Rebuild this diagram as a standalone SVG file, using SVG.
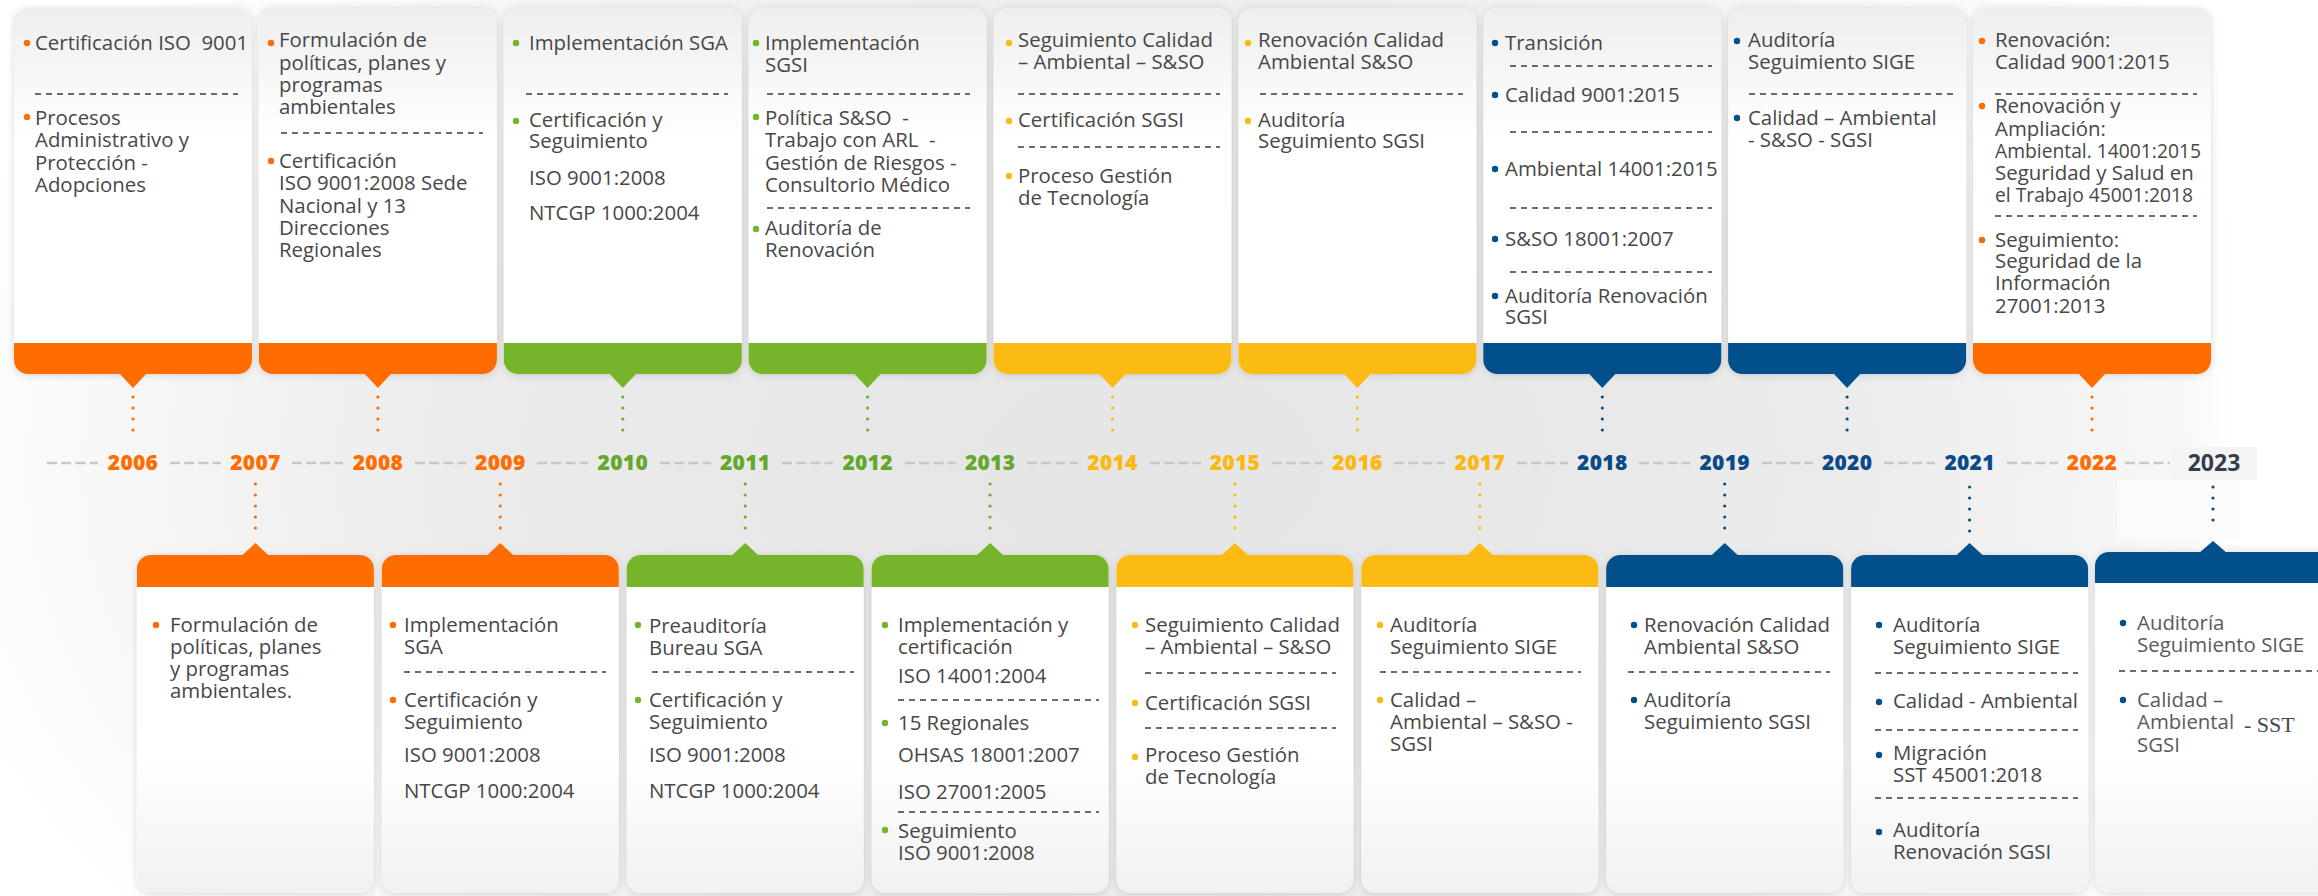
<svg xmlns="http://www.w3.org/2000/svg" width="2318" height="896" viewBox="0 0 2318 896">
<defs>
<radialGradient id="bg" gradientUnits="userSpaceOnUse" cx="1150" cy="470" r="1250" gradientTransform="translate(0 470) scale(1 0.62) translate(0 -470)">
<stop offset="0" stop-color="#e5e5e5"/><stop offset="0.55" stop-color="#ebebeb"/><stop offset="1" stop-color="#ffffff"/>
</radialGradient>
<linearGradient id="topBody" x1="0" y1="0" x2="0" y2="1">
<stop offset="0" stop-color="#eeeeee"/><stop offset="0.35" stop-color="#ffffff"/><stop offset="1" stop-color="#ffffff"/>
</linearGradient>
<linearGradient id="botBody" x1="0" y1="0" x2="0" y2="1">
<stop offset="0" stop-color="#ffffff"/><stop offset="0.6" stop-color="#ffffff"/><stop offset="1" stop-color="#f1f1f1"/>
</linearGradient>
<linearGradient id="rightFade" x1="0" y1="0" x2="1" y2="0">
<stop offset="0" stop-color="#ffffff" stop-opacity="0"/><stop offset="0.4" stop-color="#ffffff" stop-opacity="1"/>
</linearGradient>
<filter id="sh" x="-10%" y="-10%" width="120%" height="120%">
<feDropShadow dx="0" dy="1" stdDeviation="3.5" flood-color="#000" flood-opacity="0.15"/>
</filter>
</defs>
<style>
.t{font-family:"Open Sans","Liberation Sans",sans-serif;font-size:20.4px;font-weight:500;fill:#474747}
.t2{font-family:"Open Sans","Liberation Sans",sans-serif;font-size:20.4px;font-weight:500;fill:#5a5a5a}
.yr{font-family:"Open Sans","Liberation Sans",sans-serif;font-weight:800;font-size:21px;text-anchor:middle;letter-spacing:0.3px}
.sep{stroke:#3d3d3d;stroke-width:1.6;stroke-dasharray:6 5;fill:none}
.tb{fill:url(#topBody);filter:url(#sh)}
.bb{fill:url(#botBody);filter:url(#sh)}
.o{fill:#ff6c00}.g{fill:#76b52a}.y{fill:#fbbb14}.b{fill:#02508b}
.so{stroke:#ff6c00}.sg{stroke:#6fae2a}.sy{stroke:#fbbb14}.sb{stroke:#02508b}
.dot{fill:none;stroke-width:3.2;stroke-linecap:round;stroke-dasharray:0 11}
.dash{stroke:#c8c8c8;stroke-width:2.6;stroke-dasharray:10 4.2;fill:none}
.yo{fill:#ff6c00}.yg{fill:#62a82a}.yy{fill:#fbb80f}.yb{fill:#0b4a86}
</style>
<rect x="0" y="0" width="2318" height="896" fill="url(#bg)"/>
<rect x="2180" y="0" width="138" height="545" fill="url(#rightFade)"/>
<rect x="2117" y="480" width="123" height="60" fill="#fbfbfb"/>

<g id="connectors">
<line class="dash" x1="47" y1="463" x2="98" y2="463"/>
<line class="dash" x1="170" y1="463" x2="221" y2="463"/>
<line class="dash" x1="292" y1="463" x2="343" y2="463"/>
<line class="dash" x1="415" y1="463" x2="466" y2="463"/>
<line class="dash" x1="537" y1="463" x2="588" y2="463"/>
<line class="dash" x1="660" y1="463" x2="711" y2="463"/>
<line class="dash" x1="782" y1="463" x2="833" y2="463"/>
<line class="dash" x1="905" y1="463" x2="956" y2="463"/>
<line class="dash" x1="1027" y1="463" x2="1078" y2="463"/>
<line class="dash" x1="1150" y1="463" x2="1201" y2="463"/>
<line class="dash" x1="1272" y1="463" x2="1323" y2="463"/>
<line class="dash" x1="1394" y1="463" x2="1445" y2="463"/>
<line class="dash" x1="1517" y1="463" x2="1568" y2="463"/>
<line class="dash" x1="1639" y1="463" x2="1690" y2="463"/>
<line class="dash" x1="1762" y1="463" x2="1813" y2="463"/>
<line class="dash" x1="1884" y1="463" x2="1935" y2="463"/>
<line class="dash" x1="2007" y1="463" x2="2058" y2="463"/>
<line class="dash" x1="2125" y1="463" x2="2170" y2="463"/>
<!-- dotted connectors top -->
<line class="dot so" x1="133" y1="397" x2="133" y2="441"/>
<line class="dot so" x1="377.9" y1="397" x2="377.9" y2="441"/>
<line class="dot sg" x1="622.8" y1="397" x2="622.8" y2="441"/>
<line class="dot sg" x1="867.6" y1="397" x2="867.6" y2="441"/>
<line class="dot sy" x1="1112.5" y1="397" x2="1112.5" y2="441"/>
<line class="dot sy" x1="1357.4" y1="397" x2="1357.4" y2="441"/>
<line class="dot sb" x1="1602.3" y1="397" x2="1602.3" y2="441"/>
<line class="dot sb" x1="1847.1" y1="397" x2="1847.1" y2="441"/>
<line class="dot so" x1="2092" y1="397" x2="2092" y2="441"/>
<!-- dotted connectors bottom -->
<line class="dot so" x1="255.4" y1="484" x2="255.4" y2="539"/>
<line class="dot so" x1="500.3" y1="484" x2="500.3" y2="539"/>
<line class="dot sg" x1="745.2" y1="484" x2="745.2" y2="539"/>
<line class="dot sg" x1="990.1" y1="484" x2="990.1" y2="539"/>
<line class="dot sy" x1="1234.9" y1="484" x2="1234.9" y2="539"/>
<line class="dot sy" x1="1479.8" y1="484" x2="1479.8" y2="539"/>
<line class="dot sb" x1="1724.7" y1="484" x2="1724.7" y2="539"/>
<line class="dot sb" x1="1969.6" y1="487" x2="1969.6" y2="542"/>
<line class="dot sb" x1="2213" y1="487" x2="2213" y2="531"/>
</g>

<g id="years">
<text class="yr yo" x="133" y="470">2006</text>
<text class="yr yo" x="255.4" y="470">2007</text>
<text class="yr yo" x="377.9" y="470">2008</text>
<text class="yr yo" x="500.3" y="470">2009</text>
<text class="yr yg" x="622.8" y="470">2010</text>
<text class="yr yg" x="745.2" y="470">2011</text>
<text class="yr yg" x="867.6" y="470">2012</text>
<text class="yr yg" x="990.1" y="470">2013</text>
<text class="yr yy" x="1112.5" y="470">2014</text>
<text class="yr yy" x="1234.9" y="470">2015</text>
<text class="yr yy" x="1357.4" y="470">2016</text>
<text class="yr yy" x="1479.8" y="470">2017</text>
<text class="yr yb" x="1602.3" y="470">2018</text>
<text class="yr yb" x="1724.7" y="470">2019</text>
<text class="yr yb" x="1847.1" y="470">2020</text>
<text class="yr yb" x="1969.6" y="470">2021</text>
<text class="yr yo" x="2092" y="470">2022</text>
<rect x="2172" y="447" width="85" height="33" fill="#f4f4f4"/>
<text x="2214" y="471" text-anchor="middle" style="font-family:'Open Sans','Liberation Sans',sans-serif;font-weight:700;font-size:23px;fill:#343c4d">2023</text>
</g>

<!-- TOP CARDS -->
<g id="card-2006">
<rect class="tb" x="14" y="8" width="238" height="366" rx="14"/>
<path class="o" d="M14,343H252V360a14,14 0 0 1 -14,14H28a14,14 0 0 1 -14,-14Z"/>
<path class="o" d="M119,373H147L133,388Z"/>
<circle class="o" cx="27" cy="43" r="3.2"/>
<text class="t" x="35" y="50">Certificación ISO&#160; 9001</text>
<line class="sep" x1="35" y1="94" x2="238" y2="94"/>
<circle class="o" cx="27" cy="117" r="3.2"/>
<text class="t"><tspan x="35" y="125">Procesos</tspan><tspan x="35" y="147">Administrativo y</tspan><tspan x="35" y="170">Protección -</tspan><tspan x="35" y="192">Adopciones</tspan></text>
</g>

<g id="card-2008">
<rect class="tb" x="258.9" y="8" width="238" height="366" rx="14"/>
<path class="o" d="M258.9,343H496.9V360a14,14 0 0 1 -14,14H272.9a14,14 0 0 1 -14,-14Z"/>
<path class="o" d="M363.9,373H391.9L377.9,388Z"/>
<circle class="o" cx="271" cy="43" r="3.2"/>
<text class="t"><tspan x="279" y="47">Formulación de</tspan><tspan x="279" y="69.5">políticas, planes y</tspan><tspan x="279" y="92">programas</tspan><tspan x="279" y="114">ambientales</tspan></text>
<line class="sep" x1="281" y1="133" x2="483" y2="133"/>
<circle class="o" cx="271" cy="161" r="3.2"/>
<text class="t"><tspan x="279" y="168">Certificación</tspan><tspan x="279" y="190">ISO 9001:2008 Sede</tspan><tspan x="279" y="212.5">Nacional y 13</tspan><tspan x="279" y="235">Direcciones</tspan><tspan x="279" y="257">Regionales</tspan></text>
</g>

<g id="card-2010">
<rect class="tb" x="503.8" y="8" width="238" height="366" rx="14"/>
<path class="g" d="M503.8,343H741.8V360a14,14 0 0 1 -14,14H517.8a14,14 0 0 1 -14,-14Z"/>
<path class="g" d="M608.8,373H636.8L622.8,388Z"/>
<circle class="g" cx="516" cy="43" r="3.2"/>
<text class="t" x="529" y="50">Implementación SGA</text>
<line class="sep" x1="526" y1="94" x2="728" y2="94"/>
<circle class="g" cx="516" cy="121" r="3.2"/>
<text class="t"><tspan x="529" y="127">Certificación y</tspan><tspan x="529" y="148">Seguimiento</tspan><tspan x="529" y="185">ISO 9001:2008</tspan><tspan x="529" y="220">NTCGP 1000:2004</tspan></text>
</g>

<g id="card-2012">
<rect class="tb" x="748.6" y="8" width="238" height="366" rx="14"/>
<path class="g" d="M748.6,343H986.6V360a14,14 0 0 1 -14,14H762.6a14,14 0 0 1 -14,-14Z"/>
<path class="g" d="M853.6,373H881.6L867.6,388Z"/>
<circle class="g" cx="756" cy="43" r="3.2"/>
<text class="t"><tspan x="765" y="50">Implementación</tspan><tspan x="765" y="72">SGSI</tspan></text>
<line class="sep" x1="767" y1="94" x2="970" y2="94"/>
<circle class="g" cx="756" cy="117" r="3.2"/>
<text class="t"><tspan x="765" y="125">Política S&amp;SO&#160; -</tspan><tspan x="765" y="147">Trabajo con ARL&#160; -</tspan><tspan x="765" y="170">Gestión de Riesgos -</tspan><tspan x="765" y="192">Consultorio Médico</tspan></text>
<line class="sep" x1="767" y1="208" x2="970" y2="208"/>
<circle class="g" cx="756" cy="229" r="3.2"/>
<text class="t"><tspan x="765" y="235">Auditoría de</tspan><tspan x="765" y="257">Renovación</tspan></text>
</g>

<g id="card-2014">
<rect class="tb" x="993.5" y="8" width="238" height="366" rx="14"/>
<path class="y" d="M993.5,343H1231.5V360a14,14 0 0 1 -14,14H1007.5a14,14 0 0 1 -14,-14Z"/>
<path class="y" d="M1098.5,373H1126.5L1112.5,388Z"/>
<circle class="y" cx="1009" cy="43" r="3.2"/>
<text class="t"><tspan x="1018" y="47">Seguimiento Calidad</tspan><tspan x="1018" y="69">– Ambiental – S&amp;SO</tspan></text>
<line class="sep" x1="1018" y1="94" x2="1220" y2="94"/>
<circle class="y" cx="1009" cy="121" r="3.2"/>
<text class="t" x="1018" y="127">Certificación SGSI</text>
<line class="sep" x1="1018" y1="147" x2="1220" y2="147"/>
<circle class="y" cx="1009" cy="176" r="3.2"/>
<text class="t"><tspan x="1018" y="183">Proceso Gestión</tspan><tspan x="1018" y="205">de Tecnología</tspan></text>
</g>

<g id="card-2016">
<rect class="tb" x="1238.4" y="8" width="238" height="366" rx="14"/>
<path class="y" d="M1238.4,343H1476.4V360a14,14 0 0 1 -14,14H1252.4a14,14 0 0 1 -14,-14Z"/>
<path class="y" d="M1343.4,373H1371.4L1357.4,388Z"/>
<circle class="y" cx="1248" cy="43" r="3.2"/>
<text class="t"><tspan x="1258" y="47">Renovación Calidad</tspan><tspan x="1258" y="69">Ambiental S&amp;SO</tspan></text>
<line class="sep" x1="1260" y1="94" x2="1463" y2="94"/>
<circle class="y" cx="1248" cy="121" r="3.2"/>
<text class="t"><tspan x="1258" y="127">Auditoría</tspan><tspan x="1258" y="148">Seguimiento SGSI</tspan></text>
</g>

<g id="card-2018">
<rect class="tb" x="1483.3" y="8" width="238" height="366" rx="14"/>
<path class="b" d="M1483.3,343H1721.3V360a14,14 0 0 1 -14,14H1497.3a14,14 0 0 1 -14,-14Z"/>
<path class="b" d="M1588.3,373H1616.3L1602.3,388Z"/>
<circle class="b" cx="1495" cy="43" r="3.2"/>
<text class="t" x="1505" y="50">Transición</text>
<line class="sep" x1="1510" y1="66" x2="1712" y2="66"/>
<circle class="b" cx="1495" cy="95" r="3.2"/>
<text class="t" x="1505" y="102">Calidad 9001:2015</text>
<line class="sep" x1="1510" y1="132" x2="1712" y2="132"/>
<circle class="b" cx="1495" cy="169" r="3.2"/>
<text class="t" x="1505" y="176">Ambiental 14001:2015</text>
<line class="sep" x1="1510" y1="208" x2="1712" y2="208"/>
<circle class="b" cx="1495" cy="239" r="3.2"/>
<text class="t" x="1505" y="246">S&amp;SO 18001:2007</text>
<line class="sep" x1="1510" y1="272" x2="1712" y2="272"/>
<circle class="b" cx="1495" cy="296" r="3.2"/>
<text class="t"><tspan x="1505" y="303">Auditoría Renovación</tspan><tspan x="1505" y="324">SGSI</tspan></text>
</g>

<g id="card-2020">
<rect class="tb" x="1728.1" y="8" width="238" height="366" rx="14"/>
<path class="b" d="M1728.1,343H1966.1V360a14,14 0 0 1 -14,14H1742.1a14,14 0 0 1 -14,-14Z"/>
<path class="b" d="M1833.1,373H1861.1L1847.1,388Z"/>
<circle class="b" cx="1737" cy="41" r="3.2"/>
<text class="t"><tspan x="1748" y="47">Auditoría</tspan><tspan x="1748" y="69">Seguimiento SIGE</tspan></text>
<line class="sep" x1="1749" y1="94" x2="1953" y2="94"/>
<circle class="b" cx="1737" cy="118" r="3.2"/>
<text class="t"><tspan x="1748" y="125">Calidad – Ambiental</tspan><tspan x="1748" y="147">- S&amp;SO - SGSI</tspan></text>
</g>

<g id="card-2022">
<rect class="tb" x="1973" y="8" width="238" height="366" rx="14"/>
<path class="o" d="M1973,343H2211V360a14,14 0 0 1 -14,14H1987a14,14 0 0 1 -14,-14Z"/>
<path class="o" d="M2078,373H2106L2092,388Z"/>
<circle class="o" cx="1982" cy="41" r="3.2"/>
<text class="t"><tspan x="1995" y="47">Renovación:</tspan><tspan x="1995" y="69">Calidad 9001:2015</tspan></text>
<line class="sep" x1="1995" y1="94" x2="2197" y2="94"/>
<circle class="o" cx="1982" cy="106" r="3.2"/>
<text class="t"><tspan x="1995" y="113">Renovación y</tspan><tspan x="1995" y="136">Ampliación:</tspan><tspan x="1995" y="158" textLength="206" lengthAdjust="spacingAndGlyphs">Ambiental. 14001:2015</tspan><tspan x="1995" y="180">Seguridad y Salud en</tspan><tspan x="1995" y="202" textLength="198" lengthAdjust="spacingAndGlyphs">el Trabajo 45001:2018</tspan></text>
<line class="sep" x1="1995" y1="216" x2="2197" y2="216"/>
<circle class="o" cx="1982" cy="240" r="3.2"/>
<text class="t"><tspan x="1995" y="247">Seguimiento:</tspan><tspan x="1995" y="268">Seguridad de la</tspan><tspan x="1995" y="290">Información</tspan><tspan x="1995" y="313">27001:2013</tspan></text>
</g>

<!-- BOTTOM CARDS -->
<g id="card-2007">
<rect class="bb" x="136.9" y="555" width="237" height="338" rx="14"/>
<path class="o" d="M136.9,587V569a14,14 0 0 1 14,-14H359.9a14,14 0 0 1 14,14V587Z"/>
<path class="o" d="M241.4,556H269.4L255.4,543Z"/>
<circle class="o" cx="156" cy="625" r="3.2"/>
<text class="t"><tspan x="170" y="632">Formulación de</tspan><tspan x="170" y="654">políticas, planes</tspan><tspan x="170" y="676">y programas</tspan><tspan x="170" y="698">ambientales.</tspan></text>
</g>

<g id="card-2009">
<rect class="bb" x="381.8" y="555" width="237" height="338" rx="14"/>
<path class="o" d="M381.8,587V569a14,14 0 0 1 14,-14H604.8a14,14 0 0 1 14,14V587Z"/>
<path class="o" d="M486.3,556H514.3L500.3,543Z"/>
<circle class="o" cx="393" cy="625" r="3.2"/>
<text class="t"><tspan x="404" y="632">Implementación</tspan><tspan x="404" y="654">SGA</tspan></text>
<line class="sep" x1="404" y1="672" x2="606" y2="672"/>
<circle class="o" cx="393" cy="700" r="3.2"/>
<text class="t"><tspan x="404" y="707">Certificación y</tspan><tspan x="404" y="729">Seguimiento</tspan><tspan x="404" y="762">ISO 9001:2008</tspan><tspan x="404" y="798">NTCGP 1000:2004</tspan></text>
</g>

<g id="card-2011">
<rect class="bb" x="626.7" y="555" width="237" height="338" rx="14"/>
<path class="g" d="M626.7,587V569a14,14 0 0 1 14,-14H849.7a14,14 0 0 1 14,14V587Z"/>
<path class="g" d="M731.2,556H759.2L745.2,543Z"/>
<circle class="g" cx="638" cy="625" r="3.2"/>
<text class="t"><tspan x="649" y="633">Preauditoría</tspan><tspan x="649" y="655">Bureau SGA</tspan></text>
<line class="sep" x1="652" y1="672" x2="854" y2="672"/>
<circle class="g" cx="638" cy="700" r="3.2"/>
<text class="t"><tspan x="649" y="707">Certificación y</tspan><tspan x="649" y="729">Seguimiento</tspan><tspan x="649" y="762">ISO 9001:2008</tspan><tspan x="649" y="798">NTCGP 1000:2004</tspan></text>
</g>

<g id="card-2013">
<rect class="bb" x="871.6" y="555" width="237" height="338" rx="14"/>
<path class="g" d="M871.6,587V569a14,14 0 0 1 14,-14H1094.6a14,14 0 0 1 14,14V587Z"/>
<path class="g" d="M976.1,556H1004.1L990.1,543Z"/>
<circle class="g" cx="885" cy="625" r="3.2"/>
<text class="t"><tspan x="898" y="632">Implementación y</tspan><tspan x="898" y="654">certificación</tspan><tspan x="898" y="683">ISO 14001:2004</tspan></text>
<line class="sep" x1="898" y1="700" x2="1099" y2="700"/>
<circle class="g" cx="885" cy="723" r="3.2"/>
<text class="t"><tspan x="898" y="730">15 Regionales</tspan><tspan x="898" y="762">OHSAS 18001:2007</tspan><tspan x="898" y="799">ISO 27001:2005</tspan></text>
<line class="sep" x1="898" y1="812" x2="1099" y2="812"/>
<circle class="g" cx="885" cy="830" r="3.2"/>
<text class="t"><tspan x="898" y="838">Seguimiento</tspan><tspan x="898" y="860">ISO 9001:2008</tspan></text>
</g>

<g id="card-2015">
<rect class="bb" x="1116.4" y="555" width="237" height="338" rx="14"/>
<path class="y" d="M1116.4,587V569a14,14 0 0 1 14,-14H1339.4a14,14 0 0 1 14,14V587Z"/>
<path class="y" d="M1220.9,556H1248.9L1234.9,543Z"/>
<circle class="y" cx="1135" cy="625" r="3.2"/>
<text class="t"><tspan x="1145" y="632">Seguimiento Calidad</tspan><tspan x="1145" y="654">– Ambiental – S&amp;SO</tspan></text>
<line class="sep" x1="1145" y1="673" x2="1336" y2="673"/>
<circle class="y" cx="1135" cy="703" r="3.2"/>
<text class="t" x="1145" y="710">Certificación SGSI</text>
<line class="sep" x1="1145" y1="728" x2="1336" y2="728"/>
<circle class="y" cx="1135" cy="757" r="3.2"/>
<text class="t"><tspan x="1145" y="762">Proceso Gestión</tspan><tspan x="1145" y="784">de Tecnología</tspan></text>
</g>

<g id="card-2017">
<rect class="bb" x="1361.3" y="555" width="237" height="338" rx="14"/>
<path class="y" d="M1361.3,587V569a14,14 0 0 1 14,-14H1584.3a14,14 0 0 1 14,14V587Z"/>
<path class="y" d="M1465.8,556H1493.8L1479.8,543Z"/>
<circle class="y" cx="1380" cy="625" r="3.2"/>
<text class="t"><tspan x="1390" y="632">Auditoría</tspan><tspan x="1390" y="654">Seguimiento SIGE</tspan></text>
<line class="sep" x1="1380" y1="672" x2="1581" y2="672"/>
<circle class="y" cx="1380" cy="700" r="3.2"/>
<text class="t"><tspan x="1390" y="707">Calidad –</tspan><tspan x="1390" y="729">Ambiental – S&amp;SO -</tspan><tspan x="1390" y="751">SGSI</tspan></text>
</g>

<g id="card-2019">
<rect class="bb" x="1606.2" y="555" width="237" height="338" rx="14"/>
<path class="b" d="M1606.2,587V569a14,14 0 0 1 14,-14H1829.2a14,14 0 0 1 14,14V587Z"/>
<path class="b" d="M1710.7,556H1738.7L1724.7,543Z"/>
<circle class="b" cx="1634" cy="625" r="3.2"/>
<text class="t"><tspan x="1644" y="632">Renovación Calidad</tspan><tspan x="1644" y="654">Ambiental S&amp;SO</tspan></text>
<line class="sep" x1="1628" y1="672" x2="1830" y2="672"/>
<circle class="b" cx="1634" cy="700" r="3.2"/>
<text class="t"><tspan x="1644" y="707">Auditoría</tspan><tspan x="1644" y="729">Seguimiento SGSI</tspan></text>
</g>

<g id="card-2021">
<rect class="bb" x="1851.1" y="555" width="237" height="338" rx="14"/>
<path class="b" d="M1851.1,587V569a14,14 0 0 1 14,-14H2074.1a14,14 0 0 1 14,14V587Z"/>
<path class="b" d="M1955.6,556H1983.6L1969.6,543Z"/>
<circle class="b" cx="1879" cy="625" r="3.2"/>
<text class="t"><tspan x="1893" y="632">Auditoría</tspan><tspan x="1893" y="654">Seguimiento SIGE</tspan></text>
<line class="sep" x1="1875" y1="673" x2="2078" y2="673"/>
<circle class="b" cx="1879" cy="702" r="3.2"/>
<text class="t" x="1893" y="708">Calidad - Ambiental</text>
<line class="sep" x1="1875" y1="730" x2="2078" y2="730"/>
<circle class="b" cx="1879" cy="755" r="3.2"/>
<text class="t"><tspan x="1893" y="760">Migración</tspan><tspan x="1893" y="782">SST 45001:2018</tspan></text>
<line class="sep" x1="1875" y1="798" x2="2078" y2="798"/>
<circle class="b" cx="1879" cy="832" r="3.2"/>
<text class="t"><tspan x="1893" y="837">Auditoría</tspan><tspan x="1893" y="859">Renovación SGSI</tspan></text>
</g>

<g id="card-2023">
<rect class="bb" x="2095" y="552" width="250" height="341" rx="14"/>
<path class="b" d="M2095,583V566a14,14 0 0 1 14,-14H2345V583Z"/>
<path class="b" d="M2199,553H2227L2213,541Z"/>
<circle class="b" cx="2123" cy="623" r="3.2"/>
<text class="t2"><tspan x="2137" y="630">Auditoría</tspan><tspan x="2137" y="652">Seguimiento SIGE</tspan></text>
<line class="sep" x1="2119" y1="671" x2="2330" y2="671"/>
<circle class="b" cx="2123" cy="700" r="3.2"/>
<text class="t2"><tspan x="2137" y="707">Calidad –</tspan><tspan x="2137" y="729">Ambiental</tspan><tspan x="2244" y="732" style="font-family:'Liberation Serif',serif;font-size:22px;font-weight:400;fill:#4a4a4a">- SST</tspan><tspan x="2137" y="752">SGSI</tspan></text>
</g>
</svg>
